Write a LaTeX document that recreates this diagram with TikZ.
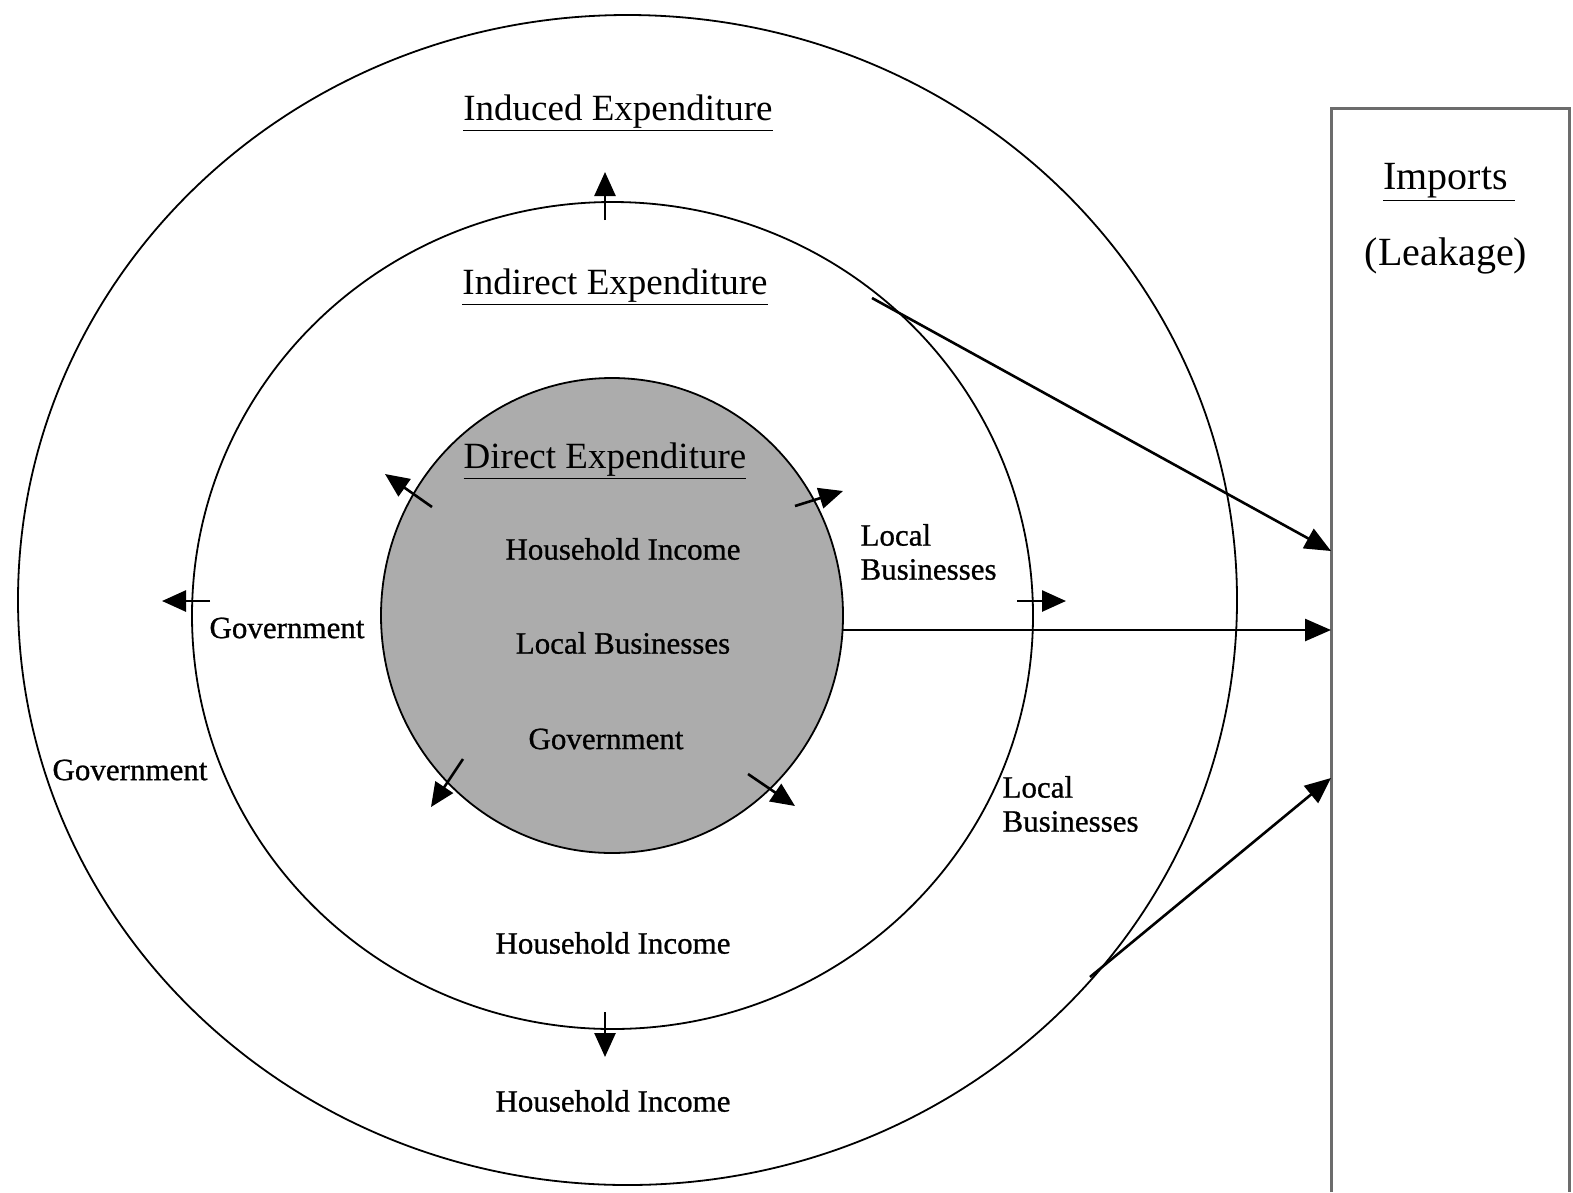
\documentclass[tikz,border=0pt]{standalone}
\usepackage{fontspec}
\setmainfont{Liberation Serif}
\newfontfamily\semibfont[FakeBold=0.8]{Liberation Serif}
\usetikzlibrary{arrows.meta}
\begin{document}
\begin{tikzpicture}[x=1pt,y=-1pt,
  ring/.style={line width=1.8pt},
  flow/.style={line width=2.6pt,-{Triangle[length=26pt,width=22pt]}},
  smallarr/.style={line width=2.6pt,-{Triangle[length=24pt,width=21pt]}},
  title/.style={font=\fontsize{37}{40}\selectfont},
  lbl/.style={font=\semibfont\fontsize{31}{36}\selectfont},
  lblL/.style={font=\semibfont\fontsize{31}{36}\selectfont, align=left, anchor=west},
  imp/.style={font=\fontsize{40}{44}\selectfont}]
\useasboundingbox (0,0) rectangle (1573,1192);
\fill[white] (0,0) rectangle (1573,1192);

% rings
\draw[ring] (627.5,600) ellipse [x radius=609.5pt, y radius=585pt];
\draw[ring] (612.5,615.5) ellipse [x radius=420.5pt, y radius=413.5pt];
\filldraw[ring, fill=gray!65] (612,615.5) ellipse [x radius=231pt, y radius=237.5pt];

% imports box (open at the bottom, runs off the page)
\draw[line width=3pt, gray!85!black] (1331,1192) |- (1569,108) -- (1569,1192);
\node[imp] (imports) at (1449,182) {\underline{Imports\,}};
\node[imp] (leak) at (1446,256) {(Leakage)};

% titles
\node[title] (induced) at (618,113) {\underline{Induced Expenditure}};
\node[title] (indirect) at (615,287) {\underline{Indirect Expenditure}};
\node[title] (direct) at (605,461) {\underline{Direct Expenditure}};

% inner labels
\node[lbl] (hh1) at (623,549) {Household Income};
\node[lbl] (lb1) at (623,643) {Local Businesses};
\node[lbl] (gov1) at (606,739) {Government};

% middle ring labels
\node[lblL] (lb2) at (857,552) {Local\\[-2pt]Businesses};
\node[lbl] (gov2) at (287,628) {Government};
\node[lbl] (hh2) at (613,943) {Household Income};

% outer ring labels
\node[lbl] (gov3) at (130,770) {Government};
\node[lblL] (lb3) at (999,804) {Local\\[-2pt]Businesses};
\node[lbl] (hh3) at (613,1101) {Household Income};

% connector end points
\coordinate (srcA) at (872,298);
\coordinate (srcB) at (843,630);
\coordinate (srcC) at (1090,977);
\coordinate (impA) at (1331,551);
\coordinate (impB) at (1331,630);
\coordinate (impC) at (1331,778);

\draw[flow] (srcA) -- (impA);
\draw[flow] (srcB) -- (impB);
\draw[flow] (srcC) -- (impC);

% small arrows crossing the rings
\coordinate (u0) at (605,220);  \coordinate (u1) at (605,172);
\coordinate (d0) at (605,1012); \coordinate (d1) at (605,1057);
\coordinate (l0) at (210,601);  \coordinate (l1) at (162,601);
\coordinate (r0) at (1017,601); \coordinate (r1) at (1066,601);
\coordinate (a0) at (432,507);  \coordinate (a1) at (385,474);
\coordinate (b0) at (795,506);  \coordinate (b1) at (843,491);
\coordinate (c0) at (463,759);  \coordinate (c1) at (431,807);
\coordinate (e0) at (748,774);  \coordinate (e1) at (795,806);
\foreach \s/\t in {u0/u1,d0/d1,l0/l1,r0/r1,a0/a1,b0/b1,c0/c1,e0/e1}
  \draw[smallarr] (\s) -- (\t);
\end{tikzpicture}
\end{document}
